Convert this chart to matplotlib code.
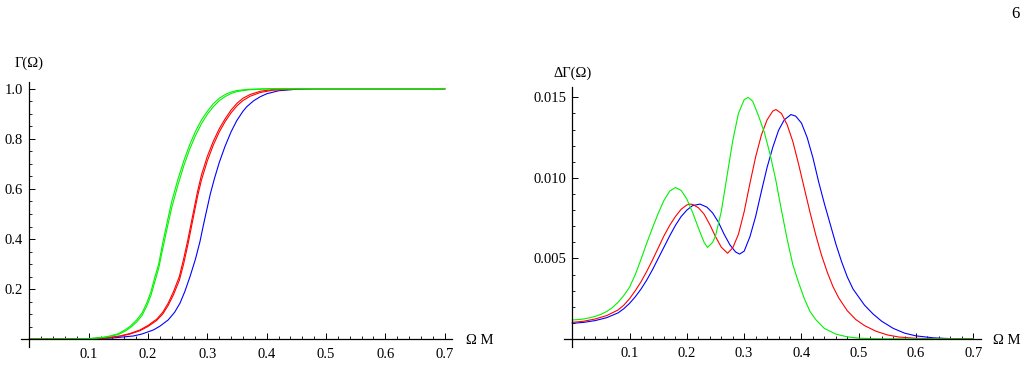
import numpy as np
import matplotlib
matplotlib.use('Agg')
import matplotlib.pyplot as plt
from matplotlib.ticker import FixedLocator

plt.rcParams['font.family'] = ['Liberation Serif', 'DejaVu Serif']

# left panel: Gamma(Omega)
g1_x = [0.0, 0.08, 0.11, 0.125, 0.136, 0.15, 0.1612, 0.17, 0.181, 0.19, 0.1978, 0.205, 0.2118, 0.218, 0.2247, 0.2331, 0.24, 0.25, 0.26, 0.27, 0.28, 0.29, 0.30, 0.31, 0.32, 0.33, 0.34, 0.35, 0.37, 0.40, 0.7]
g1_y = [0.0, 0.001, 0.004, 0.008, 0.013, 0.022, 0.037, 0.052, 0.077, 0.105, 0.144, 0.19, 0.25, 0.30, 0.383, 0.476, 0.55, 0.635, 0.71, 0.775, 0.83, 0.875, 0.91, 0.94, 0.962, 0.977, 0.987, 0.993, 0.998, 1.0, 1.0]
g2_x = [0.0, 0.08, 0.11, 0.125, 0.136, 0.15, 0.1612, 0.17, 0.181, 0.19, 0.1978, 0.205, 0.2118, 0.218, 0.2247, 0.2331, 0.24, 0.25, 0.26, 0.27, 0.28, 0.29, 0.30, 0.31, 0.32, 0.33, 0.34, 0.35, 0.37, 0.41, 0.7]
g2_y = [0.0, 0.001, 0.0035, 0.007, 0.011, 0.019, 0.032, 0.046, 0.069, 0.095, 0.132, 0.175, 0.232, 0.283, 0.36, 0.452, 0.525, 0.612, 0.69, 0.757, 0.813, 0.86, 0.898, 0.928, 0.952, 0.969, 0.981, 0.989, 0.996, 1.0, 1.0]
r1_x = [0.0, 0.10, 0.13, 0.153, 0.17, 0.1865, 0.20, 0.2146, 0.225, 0.234, 0.243, 0.2528, 0.26, 0.267, 0.275, 0.2835, 0.29, 0.30, 0.31, 0.32, 0.33, 0.34, 0.35, 0.36, 0.372, 0.389, 0.41, 0.45, 0.7]
r1_y = [0.0, 0.002, 0.006, 0.013, 0.023, 0.037, 0.055, 0.080, 0.108, 0.144, 0.19, 0.25, 0.32, 0.395, 0.49, 0.59, 0.655, 0.73, 0.79, 0.84, 0.88, 0.915, 0.942, 0.962, 0.977, 0.99, 0.997, 1.0, 1.0]
r2_x = [0.0, 0.10, 0.13, 0.153, 0.17, 0.1865, 0.20, 0.2146, 0.225, 0.234, 0.243, 0.2528, 0.26, 0.267, 0.275, 0.2835, 0.29, 0.30, 0.31, 0.32, 0.33, 0.34, 0.35, 0.36, 0.372, 0.389, 0.41, 0.46, 0.7]
r2_y = [0.0, 0.002, 0.005, 0.012, 0.021, 0.034, 0.051, 0.075, 0.101, 0.135, 0.178, 0.235, 0.30, 0.375, 0.47, 0.57, 0.635, 0.712, 0.775, 0.827, 0.869, 0.904, 0.932, 0.953, 0.97, 0.985, 0.994, 1.0, 1.0]
b_x = [0.0, 0.10, 0.14, 0.1753, 0.19, 0.209, 0.22, 0.234, 0.245, 0.2539, 0.262, 0.2708, 0.28, 0.2876, 0.2933, 0.2989, 0.305, 0.3118, 0.32, 0.3298, 0.34, 0.3494, 0.36, 0.3663, 0.378, 0.389, 0.40, 0.42, 0.45, 0.48, 0.7]
b_y = [0.0, 0.0015, 0.005, 0.013, 0.021, 0.037, 0.052, 0.077, 0.108, 0.144, 0.19, 0.25, 0.32, 0.39, 0.455, 0.515, 0.58, 0.64, 0.705, 0.77, 0.828, 0.872, 0.91, 0.928, 0.952, 0.968, 0.98, 0.992, 0.998, 1.0, 1.0]

# right panel: Delta Gamma(Omega)
dg_x = [0.0, 0.01, 0.02, 0.03, 0.04, 0.05, 0.06, 0.07, 0.08, 0.09, 0.10, 0.11, 0.12, 0.13, 0.14, 0.15, 0.16, 0.17, 0.18, 0.19, 0.20, 0.21, 0.22, 0.23, 0.236, 0.245, 0.25, 0.26, 0.27, 0.28, 0.29, 0.30, 0.307, 0.315, 0.325, 0.335, 0.345, 0.355, 0.365, 0.375, 0.385, 0.395, 0.405, 0.415, 0.425, 0.44, 0.46, 0.48, 0.50, 0.53, 0.7]
dg_y = [0.00118, 0.0012, 0.00124, 0.00131, 0.0014, 0.00153, 0.0017, 0.00195, 0.00228, 0.0027, 0.00322, 0.004, 0.00495, 0.00595, 0.0069, 0.0078, 0.0086, 0.00918, 0.0094, 0.00922, 0.00868, 0.00785, 0.0069, 0.006, 0.00568, 0.006, 0.0064, 0.0079, 0.0101, 0.0123, 0.014, 0.01485, 0.015, 0.01475, 0.01385, 0.01285, 0.0115, 0.0099, 0.008, 0.0062, 0.0046, 0.0035, 0.0025, 0.0017, 0.0012, 0.00065, 0.0003, 0.00013, 0.00005, 0.00001, 0.0]
dr_x = [0.0, 0.02, 0.04, 0.06, 0.08, 0.09, 0.10, 0.11, 0.12, 0.13, 0.14, 0.15, 0.16, 0.17, 0.18, 0.19, 0.20, 0.205, 0.21, 0.22, 0.23, 0.24, 0.25, 0.26, 0.271, 0.28, 0.29, 0.30, 0.31, 0.32, 0.33, 0.34, 0.35, 0.3555, 0.365, 0.375, 0.385, 0.395, 0.405, 0.415, 0.425, 0.435, 0.445, 0.455, 0.465, 0.48, 0.495, 0.51, 0.53, 0.55, 0.57, 0.60, 0.65, 0.7]
dr_y = [0.00103, 0.0011, 0.00124, 0.00145, 0.0018, 0.0021, 0.0025, 0.003, 0.00355, 0.0042, 0.0049, 0.00565, 0.0064, 0.00705, 0.0076, 0.00805, 0.00832, 0.00837, 0.00835, 0.00815, 0.00775, 0.0071, 0.00635, 0.0057, 0.00532, 0.00565, 0.0065, 0.0079, 0.00965, 0.0113, 0.01265, 0.0136, 0.01415, 0.01424, 0.014, 0.0133, 0.01225, 0.01085, 0.00935, 0.00785, 0.00645, 0.0052, 0.00415, 0.00325, 0.00255, 0.00175, 0.0012, 0.00083, 0.00048, 0.00025, 0.00012, 0.00004, 0.0, 0.0]
db_x = [0.0, 0.02, 0.04, 0.06, 0.08, 0.09, 0.10, 0.11, 0.12, 0.13, 0.14, 0.15, 0.16, 0.17, 0.18, 0.19, 0.20, 0.21, 0.223, 0.235, 0.245, 0.255, 0.265, 0.275, 0.285, 0.292, 0.30, 0.31, 0.32, 0.33, 0.34, 0.35, 0.36, 0.37, 0.3817, 0.39, 0.40, 0.41, 0.42, 0.43, 0.44, 0.45, 0.46, 0.47, 0.48, 0.49, 0.50, 0.51, 0.525, 0.54, 0.56, 0.58, 0.60, 0.63, 0.66, 0.7]
db_y = [0.00097, 0.00103, 0.00114, 0.00132, 0.00162, 0.00188, 0.00221, 0.00262, 0.0031, 0.00366, 0.0043, 0.005, 0.0057, 0.0064, 0.00705, 0.0076, 0.008, 0.00828, 0.00837, 0.00818, 0.00782, 0.00725, 0.0065, 0.00585, 0.0054, 0.00527, 0.00545, 0.00634, 0.0076, 0.00915, 0.01065, 0.0119, 0.01295, 0.0136, 0.01393, 0.01383, 0.0134, 0.0125, 0.01125, 0.00975, 0.0084, 0.00715, 0.0059, 0.0048, 0.00385, 0.0031, 0.0026, 0.0021, 0.00155, 0.0011, 0.00066, 0.00036, 0.00019, 0.00007, 0.00002, 0.0]

x_major = [0.1, 0.2, 0.3, 0.4, 0.5, 0.6, 0.7]
x_labels = ['0.1', '0.2', '0.3', '0.4', '0.5', '0.6', '0.7']
left_major = [0.2, 0.4, 0.6, 0.8, 1.0]
left_labels = ['0.2', '0.4', '0.6', '0.8', '1.0']
right_major = [0.005, 0.010, 0.015]
right_labels = ['0.005', '0.010', '0.015']

W, H = 1028, 365
fig = plt.figure(figsize=(W / 100, H / 100), dpi=100)

def px_axes(x0, y0, x1, y1):
    return fig.add_axes([x0 / W, 1 - y1 / H, (x1 - x0) / W, (y1 - y0) / H])

def style(ax, ymaj, ylab, yminor):
    ax.spines['right'].set_visible(False)
    ax.spines['top'].set_visible(False)
    ax.spines['left'].set_position(('data', 0))
    ax.spines['bottom'].set_position(('data', 0))
    for s in ('left', 'bottom'):
        ax.spines[s].set_linewidth(0.9)
    ax.set_xticks(x_major)
    ax.set_xticklabels(x_labels)
    ax.xaxis.set_minor_locator(FixedLocator([i * 0.02 for i in range(1, 36) if i % 5 != 0]))
    ax.set_yticks(ymaj)
    ax.set_yticklabels(ylab)
    ax.yaxis.set_minor_locator(FixedLocator(yminor))
    ax.tick_params(which='major', direction='in', length=4, width=0.7, labelsize=10.5, pad=4.5)
    ax.tick_params(which='minor', direction='in', length=2, width=0.6)
    ax.tick_params(axis='x', which='major', pad=6)

blue = (0, 0, 1)
red = (1, 0, 0)
green = (0, 0.95, 0)

ax1 = px_axes(21, 82, 452, 347)
ax1.plot(b_x, b_y, color=blue, lw=0.8)
ax1.plot(r1_x, r1_y, color=red, lw=0.8)
ax1.plot(r2_x, r2_y, color=red, lw=0.8)
ax1.plot(g1_x, g1_y, color=green, lw=0.8)
ax1.plot(g2_x, g2_y, color=green, lw=0.8)
ax1.set_xlim(-0.014, 0.7123)
ax1.set_ylim(-0.031, 1.027)
style(ax1, left_major, left_labels, [i * 0.05 for i in range(1, 21) if i % 4 != 0])

ax2 = px_axes(564, 87, 981, 347)
ax2.plot(db_x, db_y, color=blue, lw=0.8)
ax2.plot(dr_x, dr_y, color=red, lw=0.8)
ax2.plot(dg_x, dg_y, color=green, lw=0.8)
ax2.set_xlim(-0.0145, 0.7134)
ax2.set_ylim(-0.0005, 0.01564)
style(ax2, right_major, right_labels, [i * 0.001 for i in range(1, 16) if i % 5 != 0])

fig.text(29 / W, 1 - 63 / H, 'Γ(Ω)', ha='center', va='center', fontsize=10.5)
fig.text(573 / W, 1 - 73 / H, 'ΔΓ(Ω)', ha='center', va='center', fontsize=10.5)
fig.text(466 / W, 1 - 340 / H, 'Ω M', ha='left', va='center', fontsize=10.5)
fig.text(993 / W, 1 - 340 / H, 'Ω M', ha='left', va='center', fontsize=10.5)
fig.text(1015 / W, 1 - 14 / H, '6', ha='center', va='center', fontsize=12)

fig.savefig('out.png', dpi=100)
